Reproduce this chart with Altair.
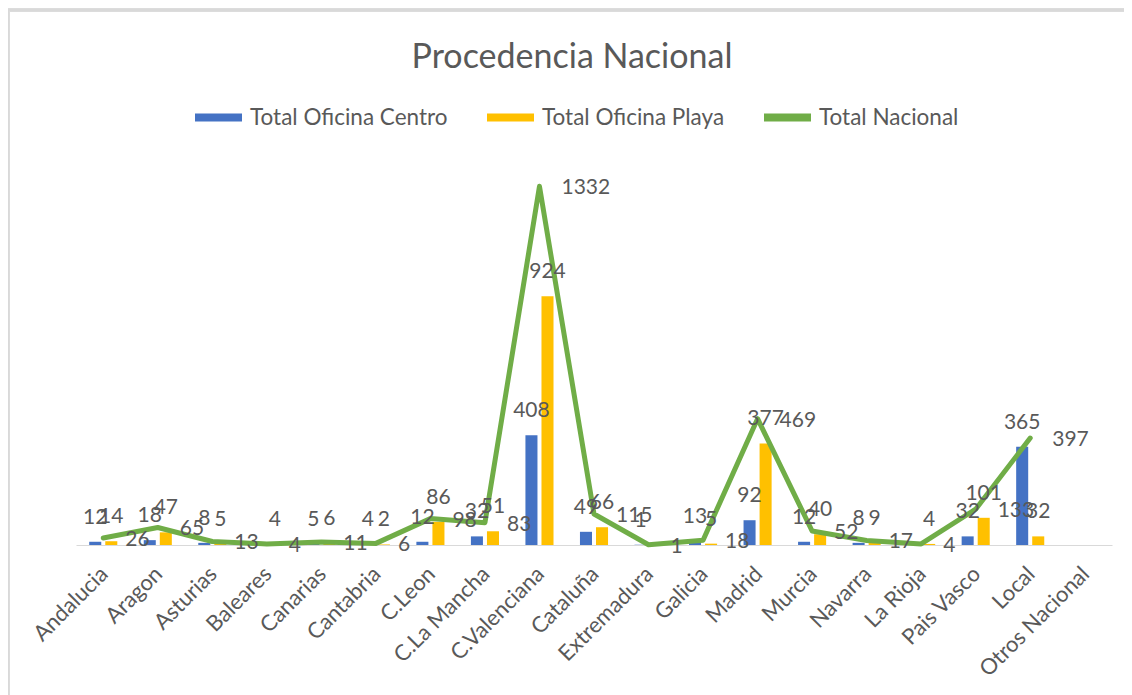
import altair as alt
import pandas as pd

categories = ["Andalucia", "Aragon", "Asturias", "Baleares", "Canarias", "Cantabria",
              "C.Leon", "C.La Mancha", "C.Valenciana", "Cataluña", "Extremadura",
              "Galicia", "Madrid", "Murcia", "Navarra", "La Rioja", "Pais Vasco",
              "Local", "Otros Nacional"]
centro = [12, 18, 8, None, 5, 4, 12, 32, 408, 49, 1, 13, 92, 12, 8, None, 32, 365, None]
playa = [14, 47, 5, 4, 6, 2, 86, 51, 924, 66, None, 5, 377, 40, 9, 4, 101, 32, None]
total = [26, 65, 13, 4, 11, 6, 98, 83, 1332, 115, 1, 18, 469, 52, 17, 4, 133, 397, None]

series = ["Total Oficina Centro", "Total Oficina Playa", "Total Nacional"]
colors = ["#4472C4", "#FFC000", "#70AD47"]

rows = []
for c, a, b in zip(categories, centro, playa):
    if a is not None:
        rows.append({"cat": c, "serie": series[0], "value": a})
    if b is not None:
        rows.append({"cat": c, "serie": series[1], "value": b})
bars_df = pd.DataFrame(rows)
line_df = pd.DataFrame([{"cat": c, "value": t} for c, t in zip(categories, total) if t is not None])

FONT = "Lato"
GRAY = "#595959"

x_enc = alt.X("cat:N", sort=categories,
              scale=alt.Scale(domain=categories, paddingInner=0.485, paddingOuter=0.2425),
              axis=alt.Axis(title=None, labelAngle=-45, ticks=False, domainColor="#D9D9D9",
                            domainWidth=1, labelFont=FONT, labelFontSize=22, labelColor=GRAY,
                            labelPadding=18, labelOffset=-6, grid=False, labelLimit=300))
y_enc = alt.Y("value:Q", scale=alt.Scale(domain=[0, 1400]), axis=None)
xoff = alt.XOffset("serie:N", sort=series[:2],
                   scale=alt.Scale(domain=series[:2], paddingInner=0.25, paddingOuter=0))

legend_path = "M-1,-0.17L1,-0.17L1,0.17L-1,0.17Z"

bars = alt.Chart(bars_df).mark_bar().encode(
    x=x_enc, y=y_enc, xOffset=xoff,
    color=alt.Color("serie:N",
                    scale=alt.Scale(domain=series, range=colors),
                    legend=alt.Legend(orient="none", legendX=119, legendY=-74,
                                      direction="horizontal", title=None,
                                      symbolType=legend_path, symbolSize=2209,
                                      symbolStrokeWidth=0, labelFont=FONT,
                                      labelFontSize=22.5, labelColor=GRAY, labelLimit=400,
                                      columnPadding=39, labelOffset=8, padding=0)),
)

bar_labels = alt.Chart(bars_df).mark_text(
    dy=-24, baseline="middle", align="center", font=FONT, fontSize=21, color=GRAY
).encode(x=x_enc, y=y_enc, xOffset=xoff, text=alt.Text("value:Q"))

line = alt.Chart(line_df).mark_line(
    color="#70AD47", strokeWidth=5, strokeCap="round", strokeJoin="round"
).encode(x=x_enc, y=y_enc)

line_labels = alt.Chart(line_df).mark_text(
    dx=22, dy=2, baseline="middle", align="left", font=FONT, fontSize=21, color=GRAY
).encode(x=x_enc, y=y_enc, text=alt.Text("value:Q"))

border_left = alt.Chart(line_df).mark_rule(color="#D9D9D9", strokeWidth=2.5).encode(
    x=alt.value(-68), y=alt.value(-158), y2=alt.value(600))
border_top = alt.Chart(line_df).mark_rule(color="#D9D9D9", strokeWidth=2.5).encode(
    x=alt.value(-68), x2=alt.value(1100), y=alt.value(-158))

chart = alt.layer(bars, line, bar_labels, line_labels, border_left, border_top).properties(
    width=1036, height=377,
    title=alt.TitleParams("Procedencia Nacional", font=FONT, fontSize=34, color=GRAY,
                          fontWeight="normal", anchor="middle", dx=-22, offset=0, dy=66),
    autosize=alt.AutoSizeParams(type="none"),
    padding={"left": 68, "top": 160, "right": 12, "bottom": 150},
).configure(background="white", view=alt.ViewConfig(stroke=None))

chart.save("out.html", embed_options={"renderer": "svg", "actions": False})
